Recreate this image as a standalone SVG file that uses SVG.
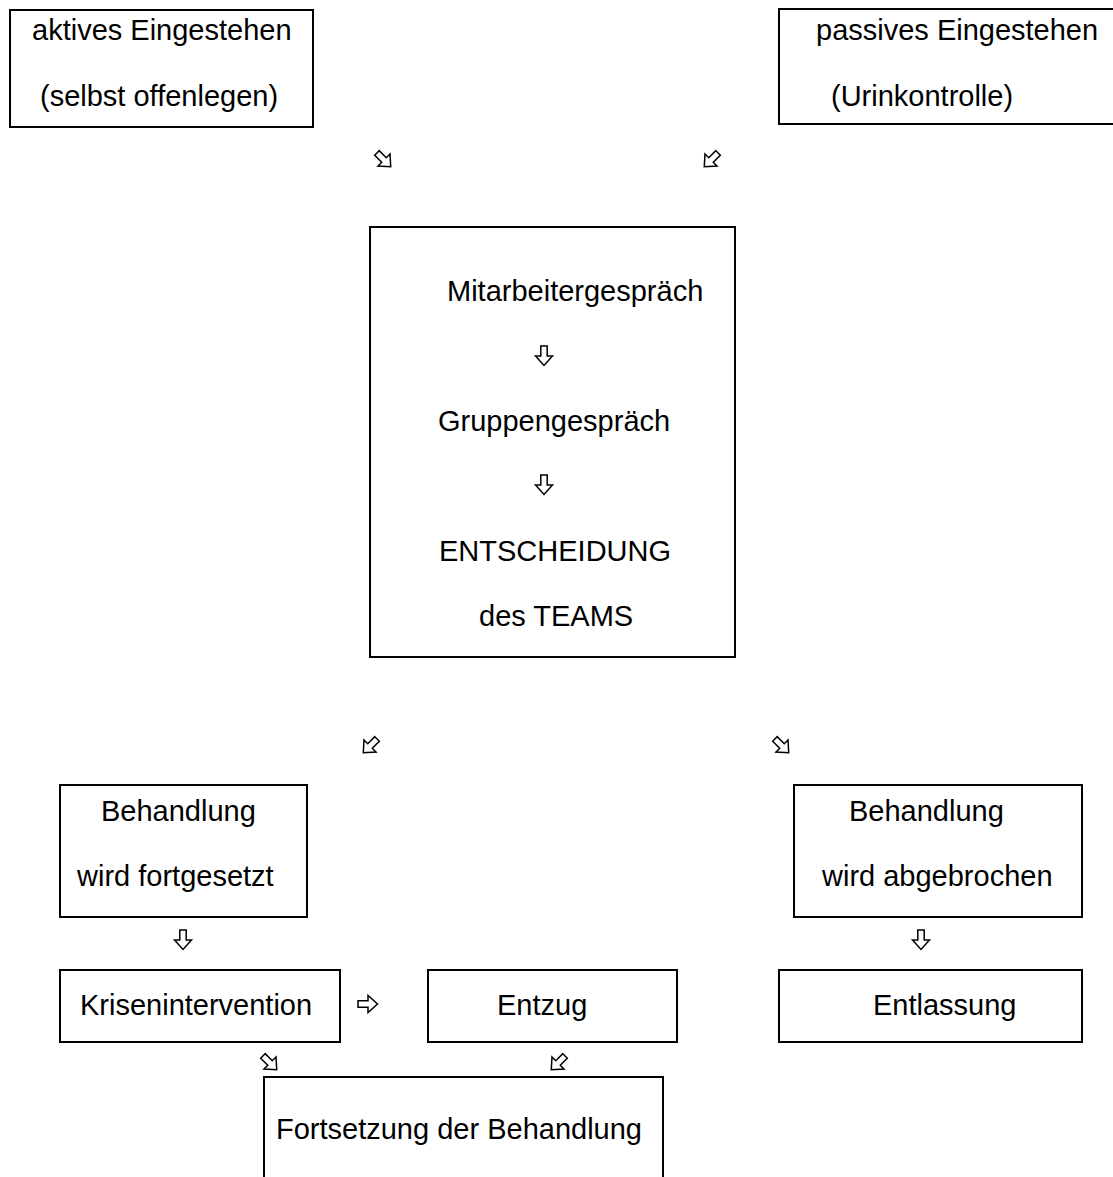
<svg xmlns="http://www.w3.org/2000/svg" xmlns:xlink="http://www.w3.org/1999/xlink" width="1113" height="1177" viewBox="0 0 1113 1177">
<style>
.box{fill:#fff;stroke:#000;stroke-width:2}
.t{font-family:"Liberation Sans",Arial,sans-serif;font-size:29px;fill:#000}
.arr{fill:#fff;stroke:#000;stroke-width:1.5;stroke-linejoin:miter}
</style>
<defs>
<path id="dn" class="arr" d="M-3.2,-10 H3.2 V0 H8.5 L0,9.5 L-8.5,0 H-3.2 Z"/>
</defs>
<rect width="1113" height="1177" fill="#fff"/>
<g id="aktiv">
<rect class="box" x="10" y="10" width="303" height="117"/>
<text class="t" x="32" y="40">aktives Eingestehen</text>
<text class="t" x="40" y="106">(selbst offenlegen)</text>
</g>
<g id="passiv">
<rect class="box" x="779" y="9" width="345" height="115"/>
<text class="t" x="816" y="40">passives Eingestehen</text>
<text class="t" x="831" y="106">(Urinkontrolle)</text>
</g>
<g id="team">
<rect class="box" x="370" y="227" width="365" height="430"/>
<text class="t" x="447" y="301">Mitarbeitergespräch</text>
<text class="t" x="438" y="431">Gruppengespräch</text>
<text class="t" x="439" y="561">ENTSCHEIDUNG</text>
<text class="t" x="479" y="626">des TEAMS</text>
</g>
<g id="fortgesetzt">
<rect class="box" x="60" y="785" width="247" height="132"/>
<text class="t" x="101" y="821">Behandlung</text>
<text class="t" x="77" y="886">wird fortgesetzt</text>
</g>
<g id="abgebrochen">
<rect class="box" x="794" y="785" width="288" height="132"/>
<text class="t" x="849" y="821">Behandlung</text>
<text class="t" x="822" y="886">wird abgebrochen</text>
</g>
<g id="krise">
<rect class="box" x="60" y="970" width="280" height="72"/>
<text class="t" x="80" y="1015">Krisenintervention</text>
</g>
<g id="entzug">
<rect class="box" x="428" y="970" width="249" height="72"/>
<text class="t" x="497" y="1015">Entzug</text>
</g>
<g id="entlassung">
<rect class="box" x="779" y="970" width="303" height="72"/>
<text class="t" x="873" y="1015">Entlassung</text>
</g>
<g id="fortsetzung">
<rect class="box" x="264" y="1077" width="399" height="130"/>
<text class="t" x="276" y="1139">Fortsetzung der Behandlung</text>
</g>
<g id="connectors">
<use xlink:href="#dn" transform="translate(384,160) rotate(-45)"/>
<use xlink:href="#dn" transform="translate(711,160) rotate(45)"/>
<use xlink:href="#dn" transform="translate(544,356)"/>
<use xlink:href="#dn" transform="translate(544,485)"/>
<use xlink:href="#dn" transform="translate(370,746) rotate(45)"/>
<use xlink:href="#dn" transform="translate(782,746) rotate(-45)"/>
<use xlink:href="#dn" transform="translate(183,940)"/>
<use xlink:href="#dn" transform="translate(921,940)"/>
<use xlink:href="#dn" transform="translate(368,1004) rotate(-90)"/>
<use xlink:href="#dn" transform="translate(270,1063) rotate(-45)"/>
<use xlink:href="#dn" transform="translate(558,1063) rotate(45)"/>
</g>
</svg>
